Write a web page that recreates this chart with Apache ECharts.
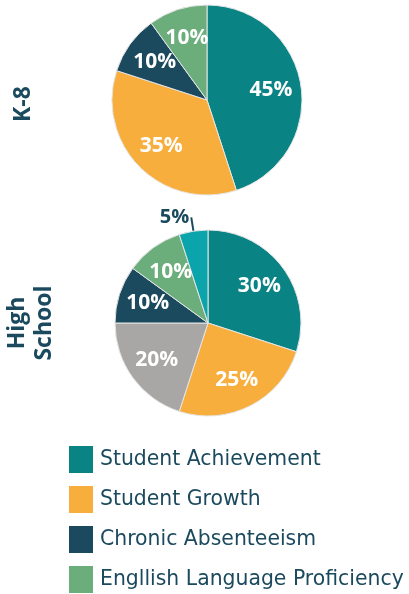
<!DOCTYPE html>
<html>
<head>
<meta charset="utf-8">
<script src="https://cdn.jsdelivr.net/npm/echarts@6/dist/echarts.min.js"></script>
<style>
  html, body { margin: 0; padding: 0; background: #fff; }
  #chart { width: 409px; height: 594px; }
</style>
</head>
<body>
<div id="chart"></div>
<script>
  // values
  var legendNames = ['Student Achievement', 'Student Growth', 'Chronic Absenteeism', 'Engllish Language Proficiency'];

  var k8Names = ['Student Achievement', 'Student Growth', 'Chronic Absenteeism', 'Engllish Language Proficiency'];
  var k8Values = [45, 35, 10, 10];

  var hsNames = ['Student Achievement', 'Student Growth', 'Other Indicator', 'Chronic Absenteeism', 'Engllish Language Proficiency', 'Additional Indicator'];
  var hsValues = [30, 25, 20, 10, 10, 5];

  var colors = {
    'Student Achievement': '#0a8385',
    'Student Growth': '#f8ae3c',
    'Chronic Absenteeism': '#1b4a5e',
    'Engllish Language Proficiency': '#6bae7b',
    'Other Indicator': '#a9a7a6',
    'Additional Indicator': '#0aa4aa'
  };
  var textColor = '#1b4a5e';

  function mainData(names, values, outsideIdx) {
    var out = [];
    for (var i = 0; i < names.length; i++) {
      out.push({
        name: names[i],
        value: values[i],
        itemStyle: { color: colors[names[i]] },
        label: { show: i === outsideIdx },
        labelLine: { show: i === outsideIdx }
      });
    }
    return out;
  }
  function labelData(names, values, outsideIdx) {
    var out = [];
    for (var i = 0; i < names.length; i++) {
      out.push({ name: names[i], value: values[i], label: { show: i !== outsideIdx } });
    }
    return out;
  }

  function piePair(center, r, names, values, outsideIdx) {
    var main = {
      type: 'pie',
      center: center,
      radius: [0, r],
      startAngle: 90,
      clockwise: true,
      animation: false,
      itemStyle: { borderColor: '#e6e6e6', borderWidth: 1 },
      label: {
        position: 'outside',
        formatter: '{c}%',
        color: textColor,
        fontFamily: 'Open Sans',
        fontWeight: 'bold',
        fontSize: 20,
        distanceToLabelLine: 2
      },
      labelLine: { length: 14, length2: 0, lineStyle: { color: textColor, width: 2 } },
      emphasis: { disabled: true },
      data: mainData(names, values, outsideIdx)
    };
    // transparent copy, only carries the inner labels further out than the midpoint
    var labels = {
      type: 'pie',
      center: center,
      radius: [0, r * 1.3],
      startAngle: 90,
      clockwise: true,
      silent: true,
      animation: false,
      legendHoverLink: false,
      itemStyle: { color: 'rgba(0,0,0,0)', borderWidth: 0 },
      label: {
        position: 'inside',
        formatter: '{c}%',
        color: '#fff',
        fontFamily: 'Open Sans',
        fontWeight: 'bold',
        fontSize: 21
      },
      labelLine: { show: false },
      emphasis: { disabled: true },
      data: labelData(names, values, outsideIdx)
    };
    return [main, labels];
  }

  var chart = echarts.init(document.getElementById('chart'));
  var option = {
    backgroundColor: '#fff',
    legend: {
      data: legendNames,
      orient: 'vertical',
      left: 69,
      top: 446,
      height: 220,
      padding: 0,
      itemWidth: 24,
      itemHeight: 27,
      itemGap: 13,
      icon: 'rect',
      selectedMode: false,
      itemStyle: { borderWidth: 0 },
      textStyle: { color: textColor, fontFamily: 'DejaVu Sans', fontSize: 20.4, padding: [0, 0, 0, 2] }
    },
    graphic: [
      {
        type: 'text', x: 23, y: 104, rotation: Math.PI / 2,
        style: { text: 'K-8', fill: textColor, font: 'bold 23px "Open Sans"', align: 'center', verticalAlign: 'middle' }
      },
      {
        type: 'text', x: 31, y: 323, rotation: Math.PI / 2,
        style: { text: 'High\nSchool', fill: textColor, font: 'bold 23px "Open Sans"', align: 'center', verticalAlign: 'middle', lineHeight: 27 }
      }
    ],
    series: [].concat(
      piePair([207, 100], 95, k8Names, k8Values, -1),
      piePair([208, 323], 93, hsNames, hsValues, 5)
    )
  };
  chart.setOption(option);
</script>
</body>
</html>
